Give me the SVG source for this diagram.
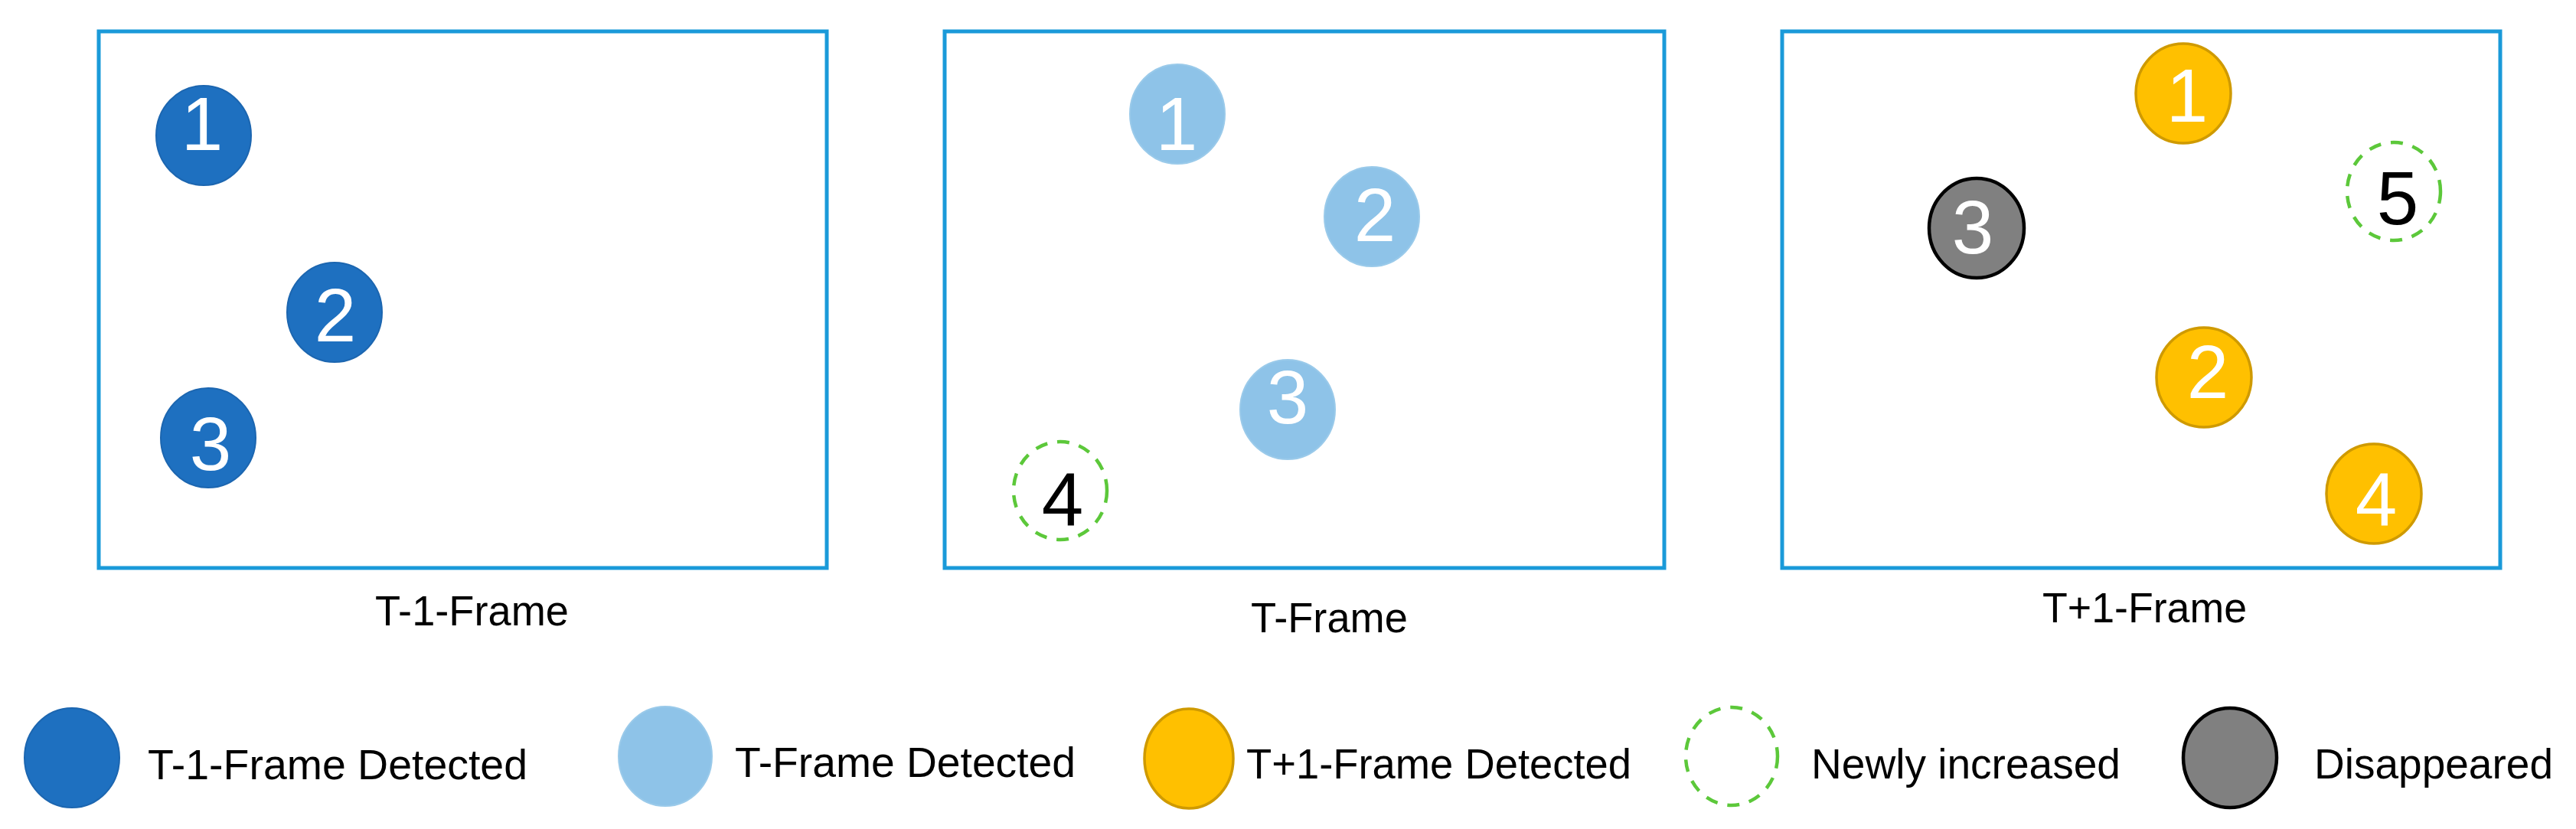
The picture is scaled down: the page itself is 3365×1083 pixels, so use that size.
<svg xmlns="http://www.w3.org/2000/svg" width="3365" height="1083" viewBox="0 0 3365 1083">
<style>
.frame{fill:none;stroke:#1A9AD9;stroke-width:5}
.dk{fill:#1E70C0;stroke:#1C66B0;stroke-width:2}
.lt{fill:#8EC3E8;stroke:#9ACAEA;stroke-width:2}
.yl{fill:#FFC000;stroke:#CF9A00;stroke-width:3.5}
.gy{fill:#808080;stroke:#000;stroke-width:4.5}
.nw{fill:none;stroke:#5CC83A;stroke-width:4.5;stroke-dasharray:16 13}
.num{font-family:"Liberation Sans",Arial,sans-serif;font-size:98px;text-anchor:middle;fill:#fff}
.numk{font-family:"Liberation Sans",Arial,sans-serif;font-size:98px;text-anchor:middle;fill:#000}
.lbl{font-family:"Liberation Sans",Arial,sans-serif;font-size:56px;fill:#000}
</style>
<rect width="3365" height="1083" fill="#fff"/>
<g id="frame-t-1">
<rect class="frame" x="129" y="41" width="951" height="701"/>
<text class="lbl" x="490" y="817" textLength="253" lengthAdjust="spacingAndGlyphs">T-1-Frame</text>
</g>
<g id="frame-t">
<rect class="frame" x="1234" y="41" width="940" height="701"/>
<text class="lbl" x="1634" y="826" textLength="205" lengthAdjust="spacingAndGlyphs">T-Frame</text>
</g>
<g id="frame-t+1">
<rect class="frame" x="2328" y="41" width="938" height="701"/>
<text class="lbl" x="2668" y="813" textLength="267" lengthAdjust="spacingAndGlyphs">T+1-Frame</text>
</g>
<g id="t-1-obj1"><ellipse class="dk" cx="266" cy="177" rx="62" ry="65"/><text class="num" x="264" y="196">1</text></g>
<g id="t-1-obj2"><ellipse class="dk" cx="437" cy="408" rx="62" ry="65"/><text class="num" x="438" y="446">2</text></g>
<g id="t-1-obj3"><ellipse class="dk" cx="272" cy="572" rx="62" ry="65"/><text class="num" x="275" y="614">3</text></g>
<g id="t-obj1"><ellipse class="lt" cx="1538" cy="149" rx="62" ry="65"/><text class="num" x="1537" y="196">1</text></g>
<g id="t-obj2"><ellipse class="lt" cx="1792" cy="283" rx="62" ry="65"/><text class="num" x="1796" y="315">2</text></g>
<g id="t-obj3"><ellipse class="lt" cx="1682" cy="535" rx="62" ry="65"/><text class="num" x="1682" y="553">3</text></g>
<g id="t-obj4"><ellipse class="nw" cx="1385" cy="641" rx="61" ry="64"/><text class="numk" x="1388" y="686">4</text></g>
<g id="t+1-obj1"><ellipse class="yl" cx="2852" cy="122" rx="62" ry="65"/><text class="num" x="2857" y="159">1</text></g>
<g id="t+1-obj5"><ellipse class="nw" cx="3127" cy="250" rx="61" ry="64"/><text class="numk" x="3132" y="293">5</text></g>
<g id="t+1-obj3"><ellipse class="gy" cx="2582" cy="298" rx="62" ry="65"/><text class="num" x="2577" y="331">3</text></g>
<g id="t+1-obj2"><ellipse class="yl" cx="2879" cy="493" rx="62" ry="65"/><text class="num" x="2884" y="520">2</text></g>
<g id="t+1-obj4"><ellipse class="yl" cx="3101" cy="645" rx="62" ry="65"/><text class="num" x="3104" y="686">4</text></g>
<g id="connectors"></g>
<g id="legend">
<g id="legend-t-1"><ellipse class="dk" cx="94" cy="990" rx="62" ry="65"/><text class="lbl" x="193" y="1018" textLength="496" lengthAdjust="spacingAndGlyphs">T-1-Frame Detected</text></g>
<g id="legend-t"><ellipse class="lt" cx="869" cy="988" rx="61" ry="65"/><text class="lbl" x="960" y="1015" textLength="445" lengthAdjust="spacingAndGlyphs">T-Frame Detected</text></g>
<g id="legend-t+1"><ellipse class="yl" cx="1553" cy="991" rx="58" ry="65"/><text class="lbl" x="1628" y="1017" textLength="503" lengthAdjust="spacingAndGlyphs">T+1-Frame Detected</text></g>
<g id="legend-new"><ellipse class="nw" cx="2262" cy="988" rx="60" ry="64"/><text class="lbl" x="2366" y="1017" textLength="404" lengthAdjust="spacingAndGlyphs">Newly increased</text></g>
<g id="legend-gone"><ellipse class="gy" cx="2913" cy="990" rx="61" ry="65"/><text class="lbl" x="3023" y="1017" textLength="312" lengthAdjust="spacingAndGlyphs">Disappeared</text></g>
</g>
</svg>
